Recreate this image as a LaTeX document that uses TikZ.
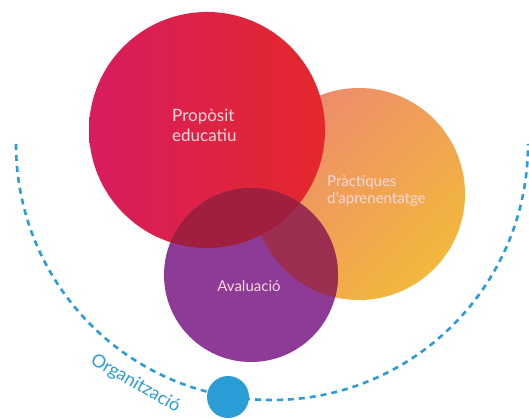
\documentclass[tikz,border=0pt]{standalone}
\usepackage{fontspec}
\setmainfont{Lato}
\definecolor{redL}{HTML}{D81C5E}
\definecolor{redR}{HTML}{E4282B}
\definecolor{orgA}{HTML}{EE8B6E}
\definecolor{orgB}{HTML}{F2B83C}
\definecolor{purp}{HTML}{8E3B97}
\definecolor{rp}{HTML}{A01E3E}
\definecolor{op}{HTML}{9C2E50}
\definecolor{blu}{HTML}{2A9DD6}
\definecolor{lbl}{HTML}{F7D8DC}
\begin{document}
\begin{tikzpicture}[x=1pt,y=1pt,
  lab/.style={text=lbl, inner sep=0pt, align=left},
  dashline/.style={blu, line width=2.6pt, dash pattern=on 6pt off 5pt}]
\useasboundingbox (0,0) rectangle (529,419);
\clip (0,0) rectangle (529,419);
\fill[white] (0,0) rectangle (529,419);
\coordinate (C) at (272,275);
\coordinate (arcstart) at ([shift={(180:256)}]C);
% dashed arc
\draw[dashline] (arcstart) arc[start angle=180, end angle=360, radius=256];
\node[circle, fill=blu, minimum size=42pt, inner sep=0pt] (dot) at (228,22) {};
% label along the arc
\node[text=blu, font=\fontsize{18}{18}\selectfont, rotate=-30, inner sep=0pt] (org) at ([shift={(240.3:276)}]C) {Organització};
% circles
\shade[left color=orgA, right color=orgB, shading angle=45] (359,225) circle[radius=106];
\shade[left color=redL, right color=redR] (207,289) circle[radius=118];
\fill[purp] (251,144) circle[radius=87];
\begin{scope}
  \clip (359,225) circle[radius=106];
  \fill[op] (251,144) circle[radius=87];
\end{scope}
\begin{scope}
  \clip (207,289) circle[radius=118];
  \fill[rp] (251,144) circle[radius=87];
\end{scope}
% labels
\node[lab, font=\fontsize{17}{20}\selectfont, anchor=west] (prop) at (172,294) {Propòsit\\educatiu};
\node[lab, font=\fontsize{15}{17}\selectfont, anchor=west] (prac) at (327,228) {Pràctiques\\d'aprenentatge};
\node[lab, font=\fontsize{15}{17}\selectfont] (aval) at (249,133) {Avaluació};
\end{tikzpicture}
\end{document}
